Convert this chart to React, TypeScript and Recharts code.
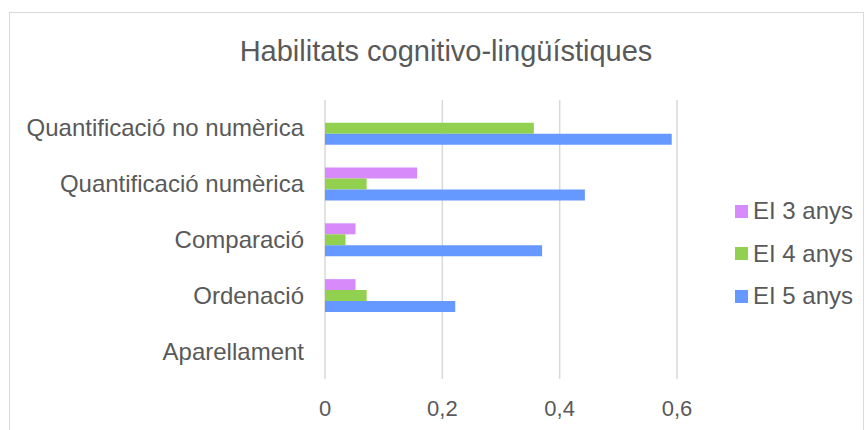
import React from 'react';
import { BarChart, Bar, XAxis, YAxis, CartesianGrid } from 'recharts';

const categories = ['Quantificació no numèrica', 'Quantificació numèrica', 'Comparació', 'Ordenació', 'Aparellament'];
const ei3 = [0, 0.157, 0.052, 0.052, 0];
const ei4 = [0.356, 0.071, 0.035, 0.071, 0];
const ei5 = [0.591, 0.443, 0.37, 0.222, 0];
const xTicks = [0, 0.2, 0.4, 0.6];

const series = [
  { key: 'ei3', name: 'EI 3 anys', color: '#D78BFB' },
  { key: 'ei4', name: 'EI 4 anys', color: '#92D050' },
  { key: 'ei5', name: 'EI 5 anys', color: '#6699FF' },
];

const data = categories.map((name, i) => ({ name, ei3: ei3[i], ei4: ei4[i], ei5: ei5[i] }));

const FONT = '"Liberation Sans", Arial, sans-serif';
const TEXT = '#595959';

// legend drawn outside the chart so it doesn't eat plot space
const LegendBox = () => (
  <div style={{ position: 'absolute', left: 735, top: 190, fontFamily: FONT }}>
    {series.map(s => (
      <div key={s.key} style={{ display: 'flex', alignItems: 'center', height: 42.5 }}>
        <span style={{ width: 13, height: 13, background: s.color, display: 'inline-block', marginRight: 5 }} />
        <span style={{ fontSize: 24, color: TEXT, lineHeight: '24px' }}>{s.name}</span>
      </div>
    ))}
  </div>
);

export default function App() {
  return (
    <div style={{ position: 'fixed', left: 0, top: 0, width: 865, height: 430, background: '#fff', overflow: 'hidden' }}>
      <div style={{ position: 'absolute', left: 9, top: 12, width: 855, height: 440, border: '1.5px solid #d9d9d9', boxSizing: 'border-box' }} />
      <div style={{ position: 'absolute', left: 0, width: 892, top: 37, textAlign: 'center', fontFamily: FONT, fontSize: 29, lineHeight: '29px', color: TEXT }}>
        Habilitats cognitivo-lingüístiques
      </div>
      <div style={{ position: 'absolute', left: 0, top: 0 }}>
        <BarChart
          width={865}
          height={430}
          data={data}
          layout="vertical"
          margin={{ top: 100, right: 188, bottom: 0, left: 0 }}
          barCategoryGap="21%"
          barGap={0}
        >
          <CartesianGrid horizontal={false} stroke="#d9d9d9" strokeWidth={1.5} />
          <XAxis
            type="number"
            domain={[0, 0.6]}
            ticks={xTicks}
            axisLine={false}
            tickLine={false}
            tickSize={0}
            tickMargin={21}
            height={51}
            tick={{ fontSize: 22, fill: TEXT, fontFamily: FONT }}
            tickFormatter={(v: number) => String(v).replace('.', ',')}
          />
          <YAxis
            type="category"
            dataKey="name"
            width={325}
            axisLine={false}
            tickLine={false}
            tickSize={0}
            tickMargin={21}
            interval={0}
            tick={{ fontSize: 24, fill: TEXT, fontFamily: FONT }}
          />
          {series.map(s => (
            <Bar key={s.key} dataKey={s.key} name={s.name} fill={s.color} isAnimationActive={false} />
          ))}
        </BarChart>
      </div>
      <LegendBox />
    </div>
  );
}
